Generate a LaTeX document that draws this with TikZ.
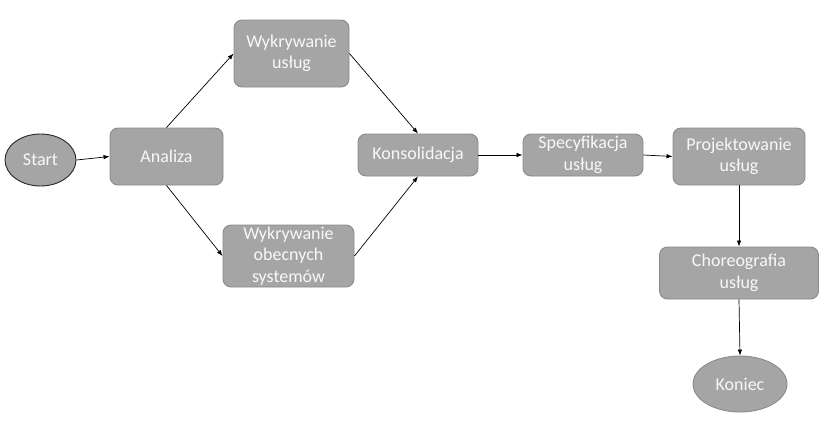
\documentclass[tikz,border=0pt]{standalone}
\usepackage{fontspec}
\setmainfont{Carlito}
\usetikzlibrary{arrows.meta,shapes.geometric}
\definecolor{boxfill}{HTML}{A5A5A5}
\definecolor{boxline}{HTML}{8A8A8A}
\definecolor{boxtext}{HTML}{F8F8F8}
\tikzset{
  box/.style={draw=boxline, line width=0.9pt, fill=boxfill, rounded corners=8pt, align=center,
    text=boxtext, font=\fontsize{18}{21.5}\selectfont, inner sep=0pt},
  oval/.style={ellipse, draw=boxline, line width=0.9pt, fill=boxfill, align=center,
    text=boxtext, font=\fontsize{18}{21.5}\selectfont, inner sep=0pt},
  conn/.style={draw=black, line width=0.7pt, -{Latex[length=6pt,width=4.5pt]}}
}
\begin{document}
\begin{tikzpicture}[x=1pt,y=-1pt]
\useasboundingbox (0,0) rectangle (832,442);
\node[oval, draw=black!85, minimum width=71pt, minimum height=52pt] (start) at (40.5,160) {Start};
\node[box, minimum width=113pt, minimum height=57pt] (analiza) at (166.5,156.5) {Analiza};
\node[box, minimum width=115pt, minimum height=67pt] (wu) at (291.5,53.5) {Wykrywanie\\usług};
\node[box, minimum width=131pt, minimum height=62pt] (wo) at (288.5,256) {Wykrywanie\\obecnych\\systemów};
\node[box, minimum width=120pt, minimum height=42pt] (kons) at (418,155) {Konsolidacja};
\node[box, minimum width=120pt, minimum height=42pt] (spec) at (583,155) {Specyfikacja\\usług};
\node[box, minimum width=132pt, minimum height=57pt] (proj) at (739,156.5) {Projektowanie\\usług};
\node[box, minimum width=159pt, minimum height=52pt] (chor) at (739,273) {Choreografia\\usług};
\node[oval, minimum width=94pt, minimum height=56pt] (koniec) at (740,384) {Koniec};
\draw[conn] (start.east) -- (analiza.west);
\draw[conn] (analiza.north) -- (wu.west);
\draw[conn] (analiza.south) -- (wo.west);
\draw[conn] (wu.east) -- (kons.north);
\draw[conn] (wo.east) -- (kons.south);
\draw[conn] (kons.east) -- (spec.west);
\draw[conn] (spec.east) -- (proj.west);
\draw[conn] (proj.south) -- (chor.north);
\draw[conn] (chor.south) -- (koniec.north);
\end{tikzpicture}
\end{document}
